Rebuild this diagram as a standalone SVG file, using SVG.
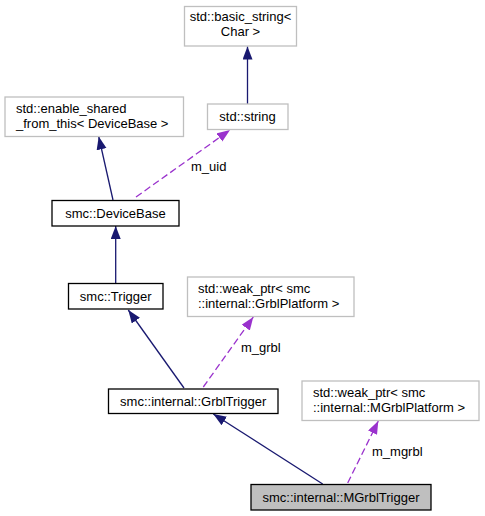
<svg xmlns="http://www.w3.org/2000/svg" width="485" height="516" viewBox="0 0 485 516">
<defs>
<style>
text{font-family:"Liberation Sans",Arial,sans-serif;font-size:13px;fill:#000}
.ext rect{fill:#fff;stroke:#bfbfbf;stroke-width:1.3}
.int rect{fill:#fff;stroke:#000;stroke-width:1.3}
.focus rect{fill:#bfbfbf;stroke:#000;stroke-width:1.3}
.c{text-anchor:middle}
.inh{fill:none;stroke:#191970;stroke-width:1.3;marker-end:url(#ab)}
.use{fill:none;stroke:#9a32cd;stroke-width:1.3;stroke-dasharray:7,3.5;marker-end:url(#ap)}
</style>
<marker id="ab" markerUnits="userSpaceOnUse" markerWidth="14" markerHeight="11" refX="13" refY="5" orient="auto"><path d="M0,0 L13,5 L0,10 z" fill="#191970"/></marker>
<marker id="ap" markerUnits="userSpaceOnUse" markerWidth="14" markerHeight="11" refX="13" refY="5" orient="auto"><path d="M0,0 L13,5 L0,10 z" fill="#9a32cd"/></marker>
</defs>
<rect width="485" height="516" fill="#fff"/>
<g id="edges">
<path class="inh" d="M247.5,104 L247.5,46.5"/>
<path class="inh" d="M113,200 L98.7,136.5"/>
<path class="use" d="M136,197 L230,130"/>
<text x="191" y="171">m_uid</text>
<path class="inh" d="M115.7,283 L115.7,226"/>
<path class="inh" d="M184,388 L128.3,310"/>
<path class="use" d="M203.3,387 L253.3,317"/>
<text x="241" y="352">m_grbl</text>
<path class="inh" d="M322.7,484 L213.3,414"/>
<path class="use" d="M347.7,483 L378.3,421"/>
<text x="372" y="456">m_mgrbl</text>
</g>
<g id="basic_string" class="ext"><rect x="184.5" y="6.5" width="112" height="39.5"/><text class="c" x="240.5" y="21">std::basic_string&lt;</text><text class="c" x="240.5" y="36">Char &gt;</text></g>
<g id="std_string" class="ext"><rect x="207.5" y="104" width="80.5" height="25.5"/><text class="c" x="247.5" y="121">std::string</text></g>
<g id="enable_shared" class="ext"><rect x="5" y="97" width="178.5" height="39.5"/><text x="16" y="112.5">std::enable_shared</text><text x="16" y="127.5">_from_this&lt; DeviceBase &gt;</text></g>
<g id="DeviceBase" class="int"><rect x="52" y="200.5" width="127" height="25.5"/><text class="c" x="115.5" y="217.5">smc::DeviceBase</text></g>
<g id="Trigger" class="int"><rect x="68.5" y="283.5" width="94.5" height="25.5"/><text class="c" x="115.7" y="300.5">smc::Trigger</text></g>
<g id="weak_grbl" class="ext"><rect x="187.5" y="277" width="166.5" height="39.5"/><text x="198" y="292.5">std::weak_ptr&lt; smc</text><text x="198" y="307.5">::internal::GrblPlatform &gt;</text></g>
<g id="GrblTrigger" class="int"><rect x="108.5" y="389" width="169.5" height="24.5"/><text class="c" x="193.2" y="405.5">smc::internal::GrblTrigger</text></g>
<g id="weak_mgrbl" class="ext"><rect x="302" y="381" width="177" height="39.5"/><text x="313" y="396.5">std::weak_ptr&lt; smc</text><text x="313" y="411.5">::internal::MGrblPlatform &gt;</text></g>
<g id="MGrblTrigger" class="focus"><rect x="251" y="484.5" width="180" height="25.5"/><text class="c" x="341" y="501.5">smc::internal::MGrblTrigger</text></g>
</svg>
